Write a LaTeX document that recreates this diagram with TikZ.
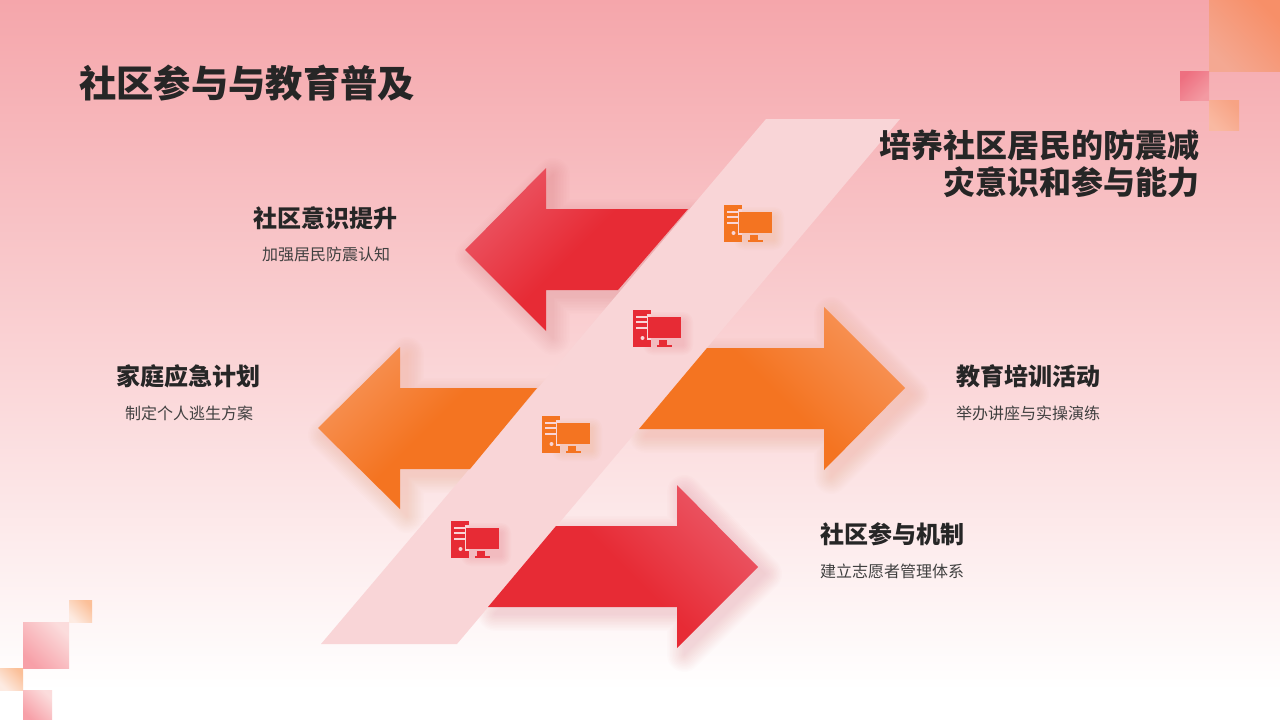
\documentclass[tikz,border=0pt]{standalone}
\usepackage{fontspec}
\setmainfont{Noto Sans CJK SC}
\definecolor{bgtop}{HTML}{F5A6AB}
\definecolor{bgmid}{HTML}{FAD2D4}
\definecolor{bandc}{HTML}{F9D5D7}
\definecolor{redS}{HTML}{E72B35}
\definecolor{redL}{HTML}{EB5563}
\definecolor{orgS}{HTML}{F47421}
\definecolor{orgL}{HTML}{F79255}
\definecolor{ink}{HTML}{262626}
\definecolor{subink}{HTML}{404040}
\definecolor{sqA}{HTML}{F4A892}
\definecolor{sqB}{HTML}{F78F68}
\definecolor{sqC}{HTML}{EE6F80}
\definecolor{sqD}{HTML}{F39AA2}
\definecolor{sqE}{HTML}{F9AE8C}
\definecolor{sqF}{HTML}{F7A384}
\definecolor{sqG}{HTML}{F7A0A8}
\definecolor{sqH}{HTML}{FBDCDC}
\definecolor{sqI}{HTML}{FBBF98}
\definecolor{sqJ}{HTML}{FDEBE2}
\newcommand{\softshadow}[2]{%
  \foreach \w in {34,31,28,25,22,19,16,13,10,7,4,1}{
    \begin{scope}[transparency group,opacity=.012]
    \fill[#2,draw=#2,line width=\w pt,line join=round,xshift=7pt,yshift=-7pt] #1;
    \end{scope}
  }}
\newcommand{\arrRedLeft}{(465,250)--(546,168)--(546,209)--(688,209)--(618,290)--(546,290)--(546,331)--cycle}
\newcommand{\arrOrgLeft}{(318,428)--(400,347)--(400,388)--(537,388)--(470,469)--(400,469)--(400,509)--cycle}
\newcommand{\arrOrgRight}{(905,388)--(824,307)--(824,348)--(707,348)--(639,429)--(824,429)--(824,470)--cycle}
\newcommand{\arrRedRight}{(758,567)--(677,485)--(677,526)--(556,526)--(488,607)--(677,607)--(677,648)--cycle}
\tikzset{
  x=1pt,y=-1pt,
  heading/.style={text=ink,font=\bfseries\fontsize{24}{28}\selectfont,inner sep=0pt},
  sublabel/.style={text=subink,font=\fontsize{16}{20}\selectfont,inner sep=0pt},
  redleft/.style={top color=redL,bottom color=redS,middle color=redS,shading angle=45},
  orgleft/.style={top color=orgL,bottom color=orgS,middle color=orgS,shading angle=45},
  redright/.style={top color=redL,bottom color=redS,middle color=redS,shading angle=-45},
  orgright/.style={top color=orgL,bottom color=orgS,middle color=orgS,shading angle=-45},
  pics/pcicon/.style={code={
    \foreach \w in {20,17,14,11,8,5,2}{
      \begin{scope}[transparency group,opacity=.018]
      \fill[#1,draw=#1,line width=\w pt,line join=round] (20,12) rectangle (50,35);
      \end{scope}
    }
    \fill[bandc] (13.5,5) rectangle (18,30);
    \fill[#1] (0,0) rectangle (18,4);
    \fill[#1] (0,0) rectangle (13.5,37);
    \fill[#1] (13.5,30) rectangle (18,37);
    \fill[bandc] (2.5,5.5) rectangle (13.5,7.5);
    \fill[bandc] (2.5,11) rectangle (13.5,13);
    \fill[bandc] (2.5,16.5) rectangle (13.5,18.5);
    \fill[bandc] (9.5,28) circle (2);
    \fill[#1] (15,7) rectangle (48,28);
    \fill[#1] (26,30) rectangle (34,35);
    \fill[#1] (24,35) rectangle (39,37);
  }}
}
\begin{document}
\begin{tikzpicture}
\useasboundingbox (0,0) rectangle (1280,720);
% background
\shade[top color=bgtop,bottom color=white,middle color=bgmid] (0,0) rectangle (1280,690);
\fill[white] (0,689.5) rectangle (1280,720);
% corner squares
\shade[top color=sqB,bottom color=sqA,shading angle=-45] (1209,0) rectangle (1280,71);
\shade[top color=sqC,bottom color=sqD,shading angle=45] (1180,71) rectangle (1209,100);
\shade[top color=sqF,bottom color=sqE!70!bgmid,shading angle=-45] (1209,100) rectangle (1239,130);
\shade[top color=sqH,bottom color=sqG,shading angle=-45] (23,622) rectangle (69,668);
\shade[top color=sqI,bottom color=sqJ,shading angle=-45] (69,600) rectangle (92,622);
\shade[top color=sqI,bottom color=sqJ,shading angle=-45] (0,668) rectangle (23,690);
\shade[top color=sqH,bottom color=sqG,shading angle=-45] (23,690) rectangle (52,720);
% arrow shadows
\softshadow{\arrRedLeft}{redS}
\softshadow{\arrOrgLeft}{orgS}
\softshadow{\arrOrgRight}{orgS}
\softshadow{\arrRedRight}{redS}
% band
\fill[bandc] (766,119) -- (900,119) -- (457,644) -- (321,644) -- cycle;
% arrows
\shade[redleft] \arrRedLeft;
\shade[orgleft] \arrOrgLeft;
\shade[orgright] \arrOrgRight;
\shade[redright] \arrRedRight;
% icons
\pic (icona) at (724,205) {pcicon=orgS};
\pic (iconb) at (633,310) {pcicon=redS};
\pic (iconc) at (542,416) {pcicon=orgS};
\pic (icond) at (451,521) {pcicon=redS};
% texts
\node[anchor=west,text=ink,font=\bfseries\fontsize{37.3}{40}\selectfont,inner sep=0pt] (title) at (79,83) {社区参与与教育普及};
\node[anchor=east,align=right,text=ink,font=\bfseries\fontsize{32}{37}\selectfont,inner sep=0pt] (goal) at (1200,163.5) {培养社区居民的防震减\\灾意识和参与能力};
\node[heading] (h1) at (325.5,218) {社区意识提升};
\node[sublabel] (s1) at (326,254) {加强居民防震认知};
\node[heading] (h2) at (188.5,376) {家庭应急计划};
\node[sublabel] (s2) at (189,413) {制定个人逃生方案};
\node[heading] (h3) at (1028.5,376) {教育培训活动};
\node[sublabel] (s3) at (1028,413) {举办讲座与实操演练};
\node[heading] (h4) at (892.5,534) {社区参与机制};
\node[sublabel] (s4) at (892,571) {建立志愿者管理体系};
\end{tikzpicture}
\end{document}
